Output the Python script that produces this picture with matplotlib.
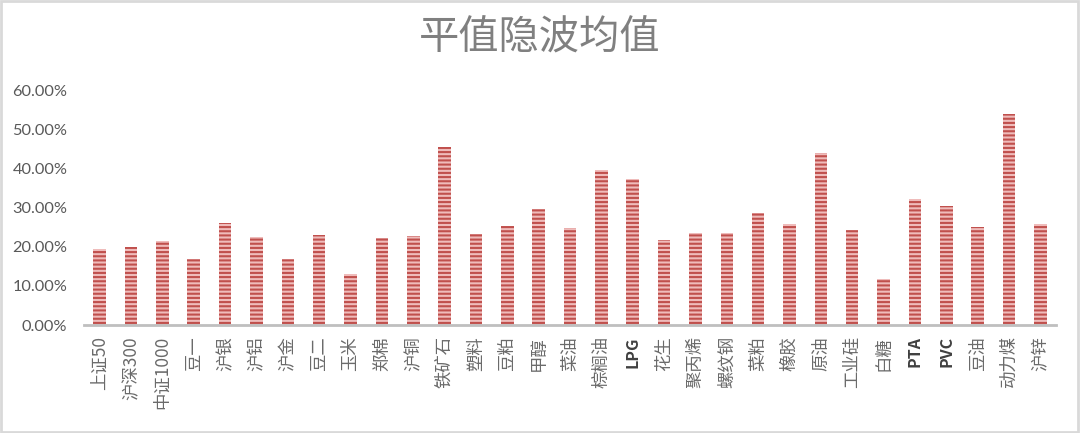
import matplotlib
matplotlib.use('Agg')
import matplotlib.pyplot as plt
from matplotlib.patches import Rectangle
from matplotlib.ticker import FuncFormatter

plt.rcParams['font.family'] = ['Noto Sans CJK SC', 'DejaVu Sans']
plt.rcParams['hatch.linewidth'] = 1.5
plt.rcParams['hatch.color'] = '#c0504d'

names = ['上证50', '沪深300', '中证1000', '豆一', '沪银', '沪铝', '沪金', '豆二', '玉米', '郑棉',
         '沪铜', '铁矿石', '塑料', '豆粕', '甲醇', '菜油', '棕榈油', 'LPG', '花生', '聚丙烯',
         '螺纹钢', '菜粕', '橡胶', '原油', '工业硅', '白糖', 'PTA', 'PVC', '豆油', '动力煤', '沪锌']
iv_mean = [0.194, 0.199, 0.214, 0.168, 0.260, 0.224, 0.168, 0.230, 0.130, 0.222,
           0.227, 0.454, 0.232, 0.253, 0.296, 0.247, 0.395, 0.372, 0.217, 0.235,
           0.235, 0.286, 0.258, 0.439, 0.242, 0.117, 0.321, 0.304, 0.250, 0.538, 0.258]
yticks = [0, 0.1, 0.2, 0.3, 0.4, 0.5, 0.6]

fig = plt.figure(figsize=(10.8, 4.33), dpi=100)
ax = fig.add_axes([0.0778, 0.2494, 0.9, 0.5426])

x = range(len(names))
ax.bar(x, iv_mean, width=0.4, color='#efbcbb', edgecolor='#c0504d', hatch='----', linewidth=0)

ax.set_xlim(-0.5, len(names) - 0.5)
ax.set_ylim(0, 0.6)
ax.set_yticks(yticks)
ax.yaxis.set_major_formatter(FuncFormatter(lambda v, p: '%.2f%%' % (v * 100)))
ax.set_xticks(list(x))
ax.set_xticklabels(names, rotation=90, va='top', ha='center')

for lab in ax.get_xticklabels():
    lab.set_fontsize(12.5)
    lab.set_color('#6a6a6a')
    if lab.get_text().isascii() and lab.get_text().isalpha():
        lab.set_color('#404040')
        lab.set_fontweight('bold')
        lab.set_fontsize(11.5)
for lab in ax.get_yticklabels():
    lab.set_fontsize(11.8)
    lab.set_color('#595959')
    lab.set_family(['Lato', 'DejaVu Sans'])

ax.tick_params(axis='both', length=0)
ax.tick_params(axis='x', pad=8)
ax.tick_params(axis='y', pad=12)
for s in ['top', 'right', 'left']:
    ax.spines[s].set_visible(False)
ax.spines['bottom'].set_color('#bfbfbf')
ax.spines['bottom'].set_linewidth(2)

fig.text(0.5, 0.912, '平值隐波均值', ha='center', va='center', fontsize=29,
         color='#808080', fontweight='light')

fig.patches.append(Rectangle((0.001, 0.002), 0.997, 0.995, transform=fig.transFigure,
                             fill=False, edgecolor='#d9d9d9', linewidth=2))

fig.savefig('out.png', dpi=100)
